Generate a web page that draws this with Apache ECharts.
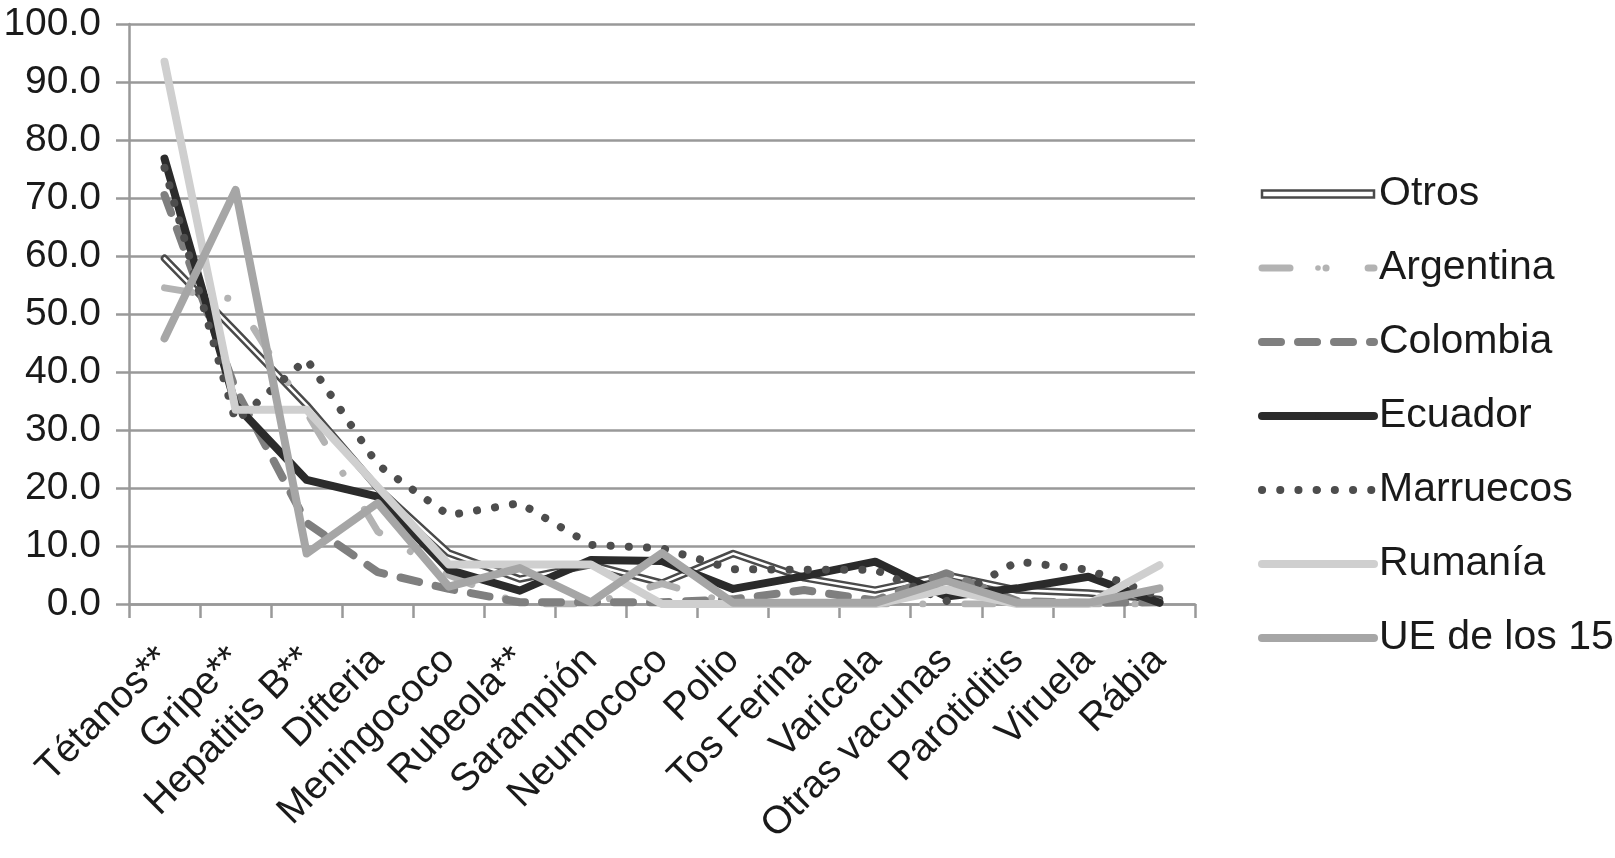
<!DOCTYPE html>
<html>
<head>
<meta charset="utf-8">
<script src="https://cdn.jsdelivr.net/npm/echarts@6/dist/echarts.min.js"></script>
<style>
html,body{margin:0;padding:0;background:#fff;}
#chart{width:1615px;height:858px;}
</style>
</head>
<body>
<div id="chart"></div>
<script>
const categories = ['Tétanos**','Gripe**','Hepatitis B**','Difteria','Meningococo','Rubeola**','Sarampión','Neumococo','Polio','Tos Ferina','Varicela','Otras vacunas','Parotiditis','Viruela','Rábia'];
const yTicks = [0,10,20,30,40,50,60,70,80,90,100];

const otros     = [59.6, 47.0, 34.3, 20.0, 8.8, 4.3, 6.8, 3.6, 8.7, 4.5, 2.4, 5.0, 2.4, 1.9, 0.8];
const argentina = [54.5, 52.5, 33.0, 12.5, 5.0, 0.0, 0.0, 3.5, 0.0, 0.0, 0.0, 0.0, 0.0, 0.0, 0.0];
const colombia  = [70.5, 37.0, 14.0, 5.5, 2.6, 0.3, 0.3, 0.3, 0.8, 2.4, 0.6, 5.3, 0.5, 0.2, 0.3];
const ecuador   = [76.8, 34.3, 21.4, 18.5, 5.9, 2.3, 7.6, 7.4, 2.6, 4.8, 7.3, 1.3, 2.7, 4.7, 0.2];
const marruecos = [75.2, 31.5, 42.2, 24.0, 15.3, 17.4, 10.2, 9.6, 6.0, 5.9, 5.9, 0.5, 7.3, 5.9, 1.3];
const rumania   = [93.5, 33.5, 33.5, 20.2, 6.8, 6.8, 6.8, 0.0, 0.0, 0.0, 0.0, 2.5, 0.0, 0.0, 6.7];
const ue15      = [45.8, 71.4, 8.7, 17.4, 3.0, 6.2, 0.3, 8.8, 0.2, 0.2, 0.2, 4.0, 0.2, 0.2, 2.7];

const FONT = "'Liberation Sans', Arial, sans-serif";
const chart = echarts.init(document.getElementById('chart'));

function lineSeries(name, data, color, width, type) {
  return {
    name: name,
    type: 'line',
    data: data,
    symbol: 'none',
    showSymbol: false,
    smooth: false,
    animation: false,
    itemStyle: { color: color },
    lineStyle: { color: color, width: width, type: type, cap: 'round', join: 'round' },
    emphasis: { disabled: true }
  };
}

chart.setOption({
  animation: false,
  backgroundColor: '#ffffff',
  grid: { left: 129, right: 420, top: 24, bottom: 254, containLabel: false },
  xAxis: {
    type: 'category',
    data: categories,
    boundaryGap: true,
    axisLine: { lineStyle: { color: '#999999', width: 2.5 } },
    axisTick: { show: true, length: 14, alignWithLabel: false, lineStyle: { color: '#999999', width: 2.5 } },
    axisLabel: { rotate: 45, margin: 50, fontSize: 39, color: '#1a1a1a', fontFamily: FONT, interval: 0 },
    splitLine: { show: false }
  },
  yAxis: {
    type: 'value',
    min: yTicks[0],
    max: yTicks[yTicks.length - 1],
    interval: 10,
    axisLine: { show: true, lineStyle: { color: '#999999', width: 2.5 } },
    axisTick: { show: true, length: 13, lineStyle: { color: '#999999', width: 2.5 } },
    axisLabel: { margin: 28, fontSize: 39, color: '#1a1a1a', fontFamily: FONT, formatter: v => v.toFixed(1) },
    splitLine: { show: true, lineStyle: { color: '#999999', width: 2.5 } }
  },
  legend: {
    orient: 'vertical',
    left: 1258,
    top: 172,
    padding: 0,
    itemWidth: 112,
    itemHeight: 7,
    itemGap: 30,
    selectedMode: false,
    textStyle: { fontSize: 41, lineHeight: 44, color: '#1a1a1a', fontFamily: FONT },
    lineStyle: { width: 'inherit', type: 'inherit', cap: 'inherit' },
    data: [
      { name: 'Otros', icon: 'rect', itemStyle: { color: '#ffffff', borderColor: '#4a4a4a', borderWidth: 2.5 } },
      'Argentina', 'Colombia', 'Ecuador', 'Marruecos', 'Rumanía', 'UE de los 15'
    ]
  },
  series: [
    lineSeries('Otros', otros, '#4a4a4a', 7.5, 'solid'),
    lineSeries('Otros_inner', otros, '#ffffff', 2.5, 'solid'),
    lineSeries('Argentina', argentina, '#b3b3b3', 7, [28, 36, 0.1, 42]),
    lineSeries('Colombia', colombia, '#7f7f7f', 8, [19, 17]),
    lineSeries('Ecuador', ecuador, '#2b2b2b', 8, 'solid'),
    lineSeries('Marruecos', marruecos, '#4d4d4d', 8, [0.1, 18.1]),
    lineSeries('Rumanía', rumania, '#cfcfcf', 8, 'solid'),
    lineSeries('UE de los 15', ue15, '#a6a6a6', 8, 'solid')
  ]
});
</script>
</body>
</html>
